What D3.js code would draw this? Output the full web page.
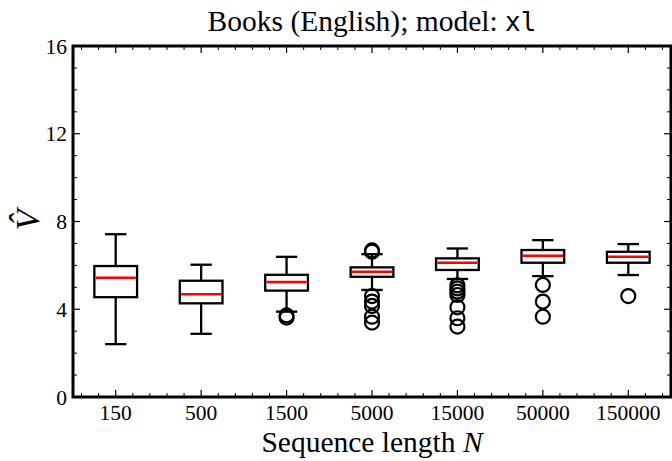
<!DOCTYPE html>
<html>
<head>
<meta charset="utf-8">
<script src="https://cdn.jsdelivr.net/npm/d3@7"></script>
<style>
  html, body { margin: 0; padding: 0; background: #fff; }
  svg { display: block; }
</style>
</head>
<body>
<svg id="chart" width="672" height="461"></svg>
<script>
const categories = ["150", "500", "1500", "5000", "15000", "50000", "150000"];
const whiskerLow  = [2.41, 2.88, 3.89, 4.88, 5.38, 5.51, 5.56];
const q1          = [4.55, 4.27, 4.85, 5.48, 5.79, 6.12, 6.12];
const median      = [5.44, 4.68, 5.24, 5.71, 6.12, 6.44, 6.39];
const q3          = [5.97, 5.30, 5.57, 5.91, 6.32, 6.70, 6.62];
const whiskerHigh = [7.42, 6.03, 6.39, 6.51, 6.77, 7.15, 6.97];
const outliers = [
  [],
  [],
  [3.72, 3.62],
  [6.68, 6.62, 4.60, 4.35, 4.15, 3.66, 3.39],
  [5.09, 4.95, 4.80, 4.65, 4.09, 3.59, 3.21],
  [5.11, 4.35, 3.66],
  [4.60]
];
const yTicks = [0, 4, 8, 12, 16];

const svg = d3.select("#chart");
const L = 73, R = 671, T = 46, B = 397;
const x = d3.scaleLinear().domain([0.5, 7.5]).range([L, R]);
const y = d3.scaleLinear().domain([0, 16]).range([B, T]);

const serif = "'Liberation Serif', 'Times New Roman', serif";
const boxW = 0.5, capW = 0.25;
const sw = 2.3;

const g = svg.append("g");
categories.forEach((c, i) => {
  const p = i + 1;
  const gg = g.append("g");
  gg.append("line").attr("x1", x(p)).attr("x2", x(p)).attr("y1", y(q1[i])).attr("y2", y(whiskerLow[i]))
    .attr("stroke", "#000").attr("stroke-width", sw);
  gg.append("line").attr("x1", x(p)).attr("x2", x(p)).attr("y1", y(q3[i])).attr("y2", y(whiskerHigh[i]))
    .attr("stroke", "#000").attr("stroke-width", sw);
  gg.append("line").attr("x1", x(p - capW / 2)).attr("x2", x(p + capW / 2)).attr("y1", y(whiskerLow[i])).attr("y2", y(whiskerLow[i]))
    .attr("stroke", "#000").attr("stroke-width", sw);
  gg.append("line").attr("x1", x(p - capW / 2)).attr("x2", x(p + capW / 2)).attr("y1", y(whiskerHigh[i])).attr("y2", y(whiskerHigh[i]))
    .attr("stroke", "#000").attr("stroke-width", sw);
  gg.append("rect").attr("x", x(p - boxW / 2)).attr("width", x(p + boxW / 2) - x(p - boxW / 2))
    .attr("y", y(q3[i])).attr("height", y(q1[i]) - y(q3[i]))
    .attr("fill", "none").attr("stroke", "#000").attr("stroke-width", sw);
  gg.append("line").attr("x1", x(p - boxW / 2) + 1.2).attr("x2", x(p + boxW / 2) - 1.2).attr("y1", y(median[i])).attr("y2", y(median[i]))
    .attr("stroke", "#ff0000").attr("stroke-width", 2.5);
  gg.selectAll("circle").data(outliers[i]).enter().append("circle")
    .attr("cx", x(p)).attr("cy", d => y(d)).attr("r", 7)
    .attr("fill", "none").attr("stroke", "#000").attr("stroke-width", 2.2);
});

const xMinor = d3.range(0.6, 7.5, 0.2).filter(v => Math.abs(v - Math.round(v)) > 0.01);
const yMinor = d3.range(1, 16, 1).filter(v => v % 4 !== 0);
const tk = svg.append("g").attr("stroke", "#000");
d3.range(1, 8).forEach(v => {
  tk.append("line").attr("x1", x(v)).attr("x2", x(v)).attr("y1", B).attr("y2", B - 7).attr("stroke-width", 1.2);
  tk.append("line").attr("x1", x(v)).attr("x2", x(v)).attr("y1", T).attr("y2", T + 7).attr("stroke-width", 1.2);
});
xMinor.forEach(v => {
  tk.append("line").attr("x1", x(v)).attr("x2", x(v)).attr("y1", B).attr("y2", B - 4).attr("stroke-width", 1);
  tk.append("line").attr("x1", x(v)).attr("x2", x(v)).attr("y1", T).attr("y2", T + 4).attr("stroke-width", 1);
});
yTicks.forEach(v => {
  tk.append("line").attr("x1", L).attr("x2", L + 7).attr("y1", y(v)).attr("y2", y(v)).attr("stroke-width", 1.2);
  tk.append("line").attr("x1", R).attr("x2", R - 7).attr("y1", y(v)).attr("y2", y(v)).attr("stroke-width", 1.2);
});
yMinor.forEach(v => {
  tk.append("line").attr("x1", L).attr("x2", L + 4).attr("y1", y(v)).attr("y2", y(v)).attr("stroke-width", 1);
  tk.append("line").attr("x1", R).attr("x2", R - 4).attr("y1", y(v)).attr("y2", y(v)).attr("stroke-width", 1);
});

svg.append("rect").attr("x", L).attr("y", T).attr("width", R - L).attr("height", B - T)
  .attr("fill", "none").attr("stroke", "#000").attr("stroke-width", 3);

svg.append("g").selectAll("text").data(categories).enter().append("text")
  .attr("x", (d, i) => x(i + 1)).attr("y", B + 23)
  .attr("text-anchor", "middle").attr("font-family", serif).attr("font-size", 21.5)
  .text(d => d);
svg.append("g").selectAll("text").data(yTicks).enter().append("text")
  .attr("x", L - 6).attr("y", d => y(d)).attr("dy", "0.35em")
  .attr("text-anchor", "end").attr("font-family", serif).attr("font-size", 21.5)
  .text(d => d);

const xl = svg.append("text").attr("x", (L + R) / 2).attr("y", 452)
  .attr("text-anchor", "middle").attr("font-family", serif).attr("font-size", 29.5);
xl.append("tspan").text("Sequence length ");
xl.append("tspan").attr("font-style", "italic").text("N");

svg.append("text").attr("transform", `translate(39,220) rotate(-90)`)
  .attr("text-anchor", "middle").attr("font-family", serif).attr("font-size", 34)
  .attr("font-style", "italic").text("V\u0302");

const tt = svg.append("text").attr("x", (L + R) / 2).attr("y", 31)
  .attr("text-anchor", "middle").attr("font-family", serif).attr("font-size", 29.5);
tt.append("tspan").text("Books (English); model: ");
tt.append("tspan").attr("font-family", "'DejaVu Sans Mono', 'Liberation Mono', monospace").attr("font-size", 26).text("xl");
</script>
</body>
</html>
